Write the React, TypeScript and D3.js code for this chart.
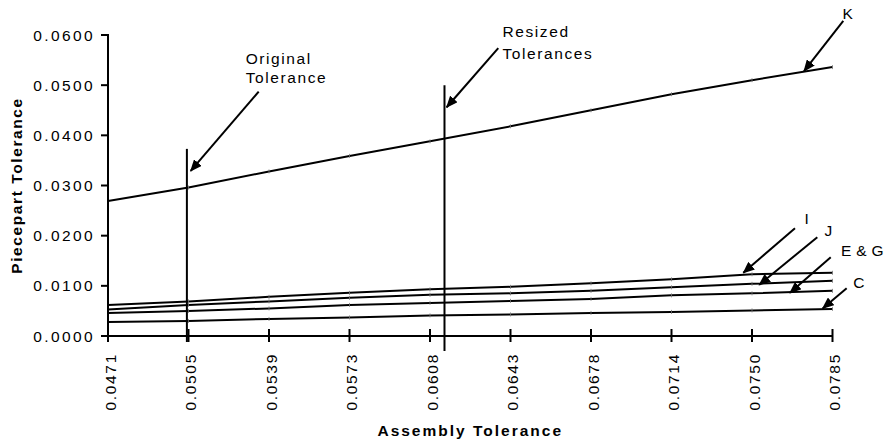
import React from "react";
import * as d3 from "d3";

const categories = ["0.0471", "0.0505", "0.0539", "0.0573", "0.0608", "0.0643", "0.0678", "0.0714", "0.0750", "0.0785"];
const seriesK = [0.0269, 0.0296, 0.0328, 0.0359, 0.0388, 0.0418, 0.0450, 0.0482, 0.0510, 0.0536];
const seriesI = [0.0062, 0.0069, 0.0078, 0.0086, 0.0093, 0.0098, 0.0105, 0.0113, 0.0123, 0.0126];
const seriesJ = [0.0053, 0.0062, 0.0069, 0.0076, 0.0082, 0.0085, 0.0090, 0.0097, 0.0104, 0.0110];
const seriesEG = [0.0046, 0.0050, 0.0055, 0.0062, 0.0066, 0.0070, 0.0074, 0.0081, 0.0085, 0.0090];
const seriesC = [0.0028, 0.0030, 0.0034, 0.0037, 0.0041, 0.0043, 0.0046, 0.0048, 0.0051, 0.0054];
const yTicks = [0, 0.01, 0.02, 0.03, 0.04, 0.05, 0.06];

// vertical reference lines: [category position, top value, bottom value]
const refLines = [
  { x: 0.98, top: 0.0373, bottom: -0.0012 },
  { x: 4.18, top: 0.05, bottom: -0.003 },
];

// annotations in (category position, value)
const annotations = [
  { lines: ["Original", "Tolerance"], tx: 1.71, ty: [0.0554, 0.0516], anchor: "start", ls: 1.6, from: [1.872, 0.0487], to: [1.027, 0.0329] },
  { lines: ["Resized", "Tolerances"], tx: 4.9, ty: [0.0607, 0.0563], anchor: "start", ls: 1.6, from: [4.848, 0.0574], to: [4.207, 0.0456] },
  { lines: ["K"], tx: 9.19, ty: [0.0642], anchor: "middle", ls: 0, from: [9.134, 0.0628], to: [8.646, 0.0528] },
  { lines: ["I"], tx: 8.68, ty: [0.0235], anchor: "middle", ls: 0, from: [8.534, 0.0215], to: [7.892, 0.0126] },
  { lines: ["J"], tx: 8.948, ty: [0.0211], anchor: "middle", ls: 0, from: [8.811, 0.0197], to: [8.09, 0.0102] },
  { lines: ["E & G"], tx: 9.105, ty: [0.0170], anchor: "start", ls: 0.3, from: [8.978, 0.0157], to: [8.472, 0.0086] },
  { lines: ["C"], tx: 9.258, ty: [0.0106], anchor: "start", ls: 0, from: [9.176, 0.0095], to: [8.878, 0.0055] },
];

const FONT = "Liberation Sans, Arial, Helvetica, sans-serif";

export default function App() {
  const W = 888, H = 443;
  const left = 108, right = 832.5, top = 35, bottom = 336;
  const x = d3.scaleLinear().domain([0, categories.length - 1]).range([left, right]);
  const y = d3.scaleLinear().domain([0, 0.06]).range([bottom, top]);
  const line = d3.line<number>().x((_, i) => x(i)).y((d) => y(d));
  const allSeries = [seriesK, seriesI, seriesJ, seriesEG, seriesC];

  return (
    <svg width={W} height={H} style={{ position: "absolute", left: 0, top: 0, background: "#fff" }} fontFamily={FONT}>
      <defs>
        <marker id="ah" markerUnits="userSpaceOnUse" markerWidth="12" markerHeight="10" refX="11" refY="5" orient="auto">
          <path d="M0,0 L12,5 L0,10 Z" fill="#000" />
        </marker>
      </defs>
      {/* series */}
      {allSeries.map((s, k) => (
        <g key={k}>
          <path d={line(s) || ""} fill="none" stroke="#000" strokeWidth={2} />
          {s.map((v, i) => (
            <line key={i} x1={x(i)} x2={x(i)} y1={y(v) - 2} y2={y(v) + 2} stroke="#777" strokeWidth={0.8} />
          ))}
        </g>
      ))}
      {/* y axis */}
      <line x1={left} x2={left} y1={top - 1} y2={bottom + 1} stroke="#000" strokeWidth={2} />
      {yTicks.map((t) => (
        <g key={t}>
          <line x1={left - 7} x2={left} y1={y(t)} y2={y(t)} stroke="#000" strokeWidth={2} />
          <text x={left - 13} y={y(t)} textAnchor="end" dominantBaseline="central" fontSize={15.5} letterSpacing={2.4} fill="#000">
            {t.toFixed(4)}
          </text>
        </g>
      ))}
      {/* x axis */}
      <line x1={left} x2={right} y1={bottom} y2={bottom} stroke="#000" strokeWidth={2} />
      {categories.map((c, i) => (
        <g key={c}>
          <line x1={x(i)} x2={x(i)} y1={bottom - 7} y2={bottom + 6} stroke="#000" strokeWidth={2} />
          <text
            transform={`translate(${x(i) + 2},${bottom + 17}) rotate(-90)`}
            textAnchor="end"
            dominantBaseline="central"
            fontSize={15.5}
            letterSpacing={1.7}
            fill="#000"
          >
            {c}
          </text>
        </g>
      ))}
      {/* reference lines */}
      {refLines.map((r, i) => (
        <line key={i} x1={x(r.x)} x2={x(r.x)} y1={y(r.top)} y2={y(r.bottom)} stroke="#000" strokeWidth={2} />
      ))}
      {/* annotations */}
      {annotations.map((a, i) => (
        <g key={i}>
          <line x1={x(a.from[0])} y1={y(a.from[1])} x2={x(a.to[0])} y2={y(a.to[1])} stroke="#000" strokeWidth={2} markerEnd="url(#ah)" />
          {a.lines.map((l, j) => (
            <text key={j} x={x(a.tx)} y={y(a.ty[j])} textAnchor={a.anchor as any} dominantBaseline="central" fontSize={15.5} letterSpacing={a.ls} fill="#000">
              {l}
            </text>
          ))}
        </g>
      ))}
      {/* axis titles */}
      <text x={(left + right) / 2} y={430} textAnchor="middle" dominantBaseline="central" fontSize={15.5} fontWeight="bold" letterSpacing={2} fill="#000">
        Assembly Tolerance
      </text>
      <text transform={`translate(16,${(top + bottom) / 2}) rotate(-90)`} textAnchor="middle" dominantBaseline="central" fontSize={15.5} fontWeight="bold" letterSpacing={1.6} fill="#000">
        Piecepart Tolerance
      </text>
    </svg>
  );
}
